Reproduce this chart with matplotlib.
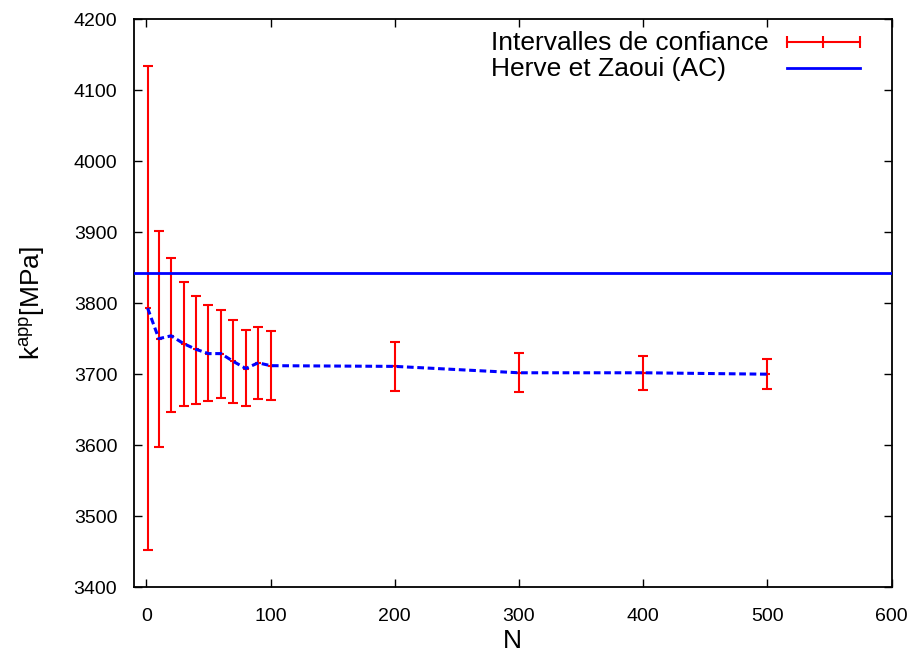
import matplotlib
matplotlib.use('Agg')
import matplotlib.pyplot as plt
import numpy as np

plt.rcParams['font.family'] = ['Liberation Sans', 'DejaVu Sans']
plt.rcParams['mathtext.fontset'] = 'custom'
plt.rcParams['mathtext.rm'] = 'Liberation Sans'
plt.rcParams['mathtext.it'] = 'Liberation Sans'

N = [1, 10, 20, 30, 40, 50, 60, 70, 80, 90, 100, 200, 300, 400, 500]
k_mean = [3793, 3750, 3754, 3743, 3735, 3729, 3729, 3718, 3708, 3716, 3712, 3711, 3702, 3702, 3700]
k_low = [3452, 3597, 3647, 3655, 3658, 3662, 3667, 3660, 3655, 3665, 3664, 3677, 3675, 3678, 3679]
k_high = [4134, 3901, 3863, 3830, 3810, 3798, 3791, 3776, 3762, 3767, 3761, 3745, 3730, 3726, 3721]
k_hz = 3843
labels = ['Intervalles de confiance', 'Herve et Zaoui (AC)']

mean = np.array(k_mean)
yerr = [mean - np.array(k_low), np.array(k_high) - mean]

fig = plt.figure(figsize=(9.15, 6.53), dpi=100)
ax = fig.add_axes([0.1464, 0.1006, 0.8281, 0.8703])

ax.errorbar(N, k_mean, yerr=yerr, fmt='_', color='#ff0000', ms=5, mew=1.5,
            elinewidth=1.5, capsize=3.5, capthick=1.5, zorder=2)
ax.plot(N, k_mean, color='#0000ff', lw=2.2, dashes=(2.2, 1.2), zorder=3)
ax.axhline(k_hz, color='#0000ff', lw=2, zorder=3)

ax.set_xlim(-10, 600)
ax.set_ylim(3400, 4200)
ax.set_xticks(range(0, 601, 100))
ax.set_yticks(range(3400, 4201, 100))
ax.tick_params(direction='in', length=6, width=1, top=True, right=True, labelsize=14)
ax.tick_params(axis='x', pad=15)
ax.tick_params(axis='y', pad=12)
for s in ax.spines.values():
    s.set_linewidth(1.3)

ax.set_xlabel('N', fontsize=19, labelpad=3)
ax.set_ylabel(r'k$^{\mathrm{app}}$[MPa]', fontsize=19, labelpad=19)

# gnuplot-style key: text left-aligned, sample on the right
tr = ax.transAxes
ax.text(0.4712, 0.9448, labels[0], transform=tr, fontsize=19, ha='left', va='baseline')
ax.text(0.4712, 0.899, labels[1], transform=tr, fontsize=19, ha='left', va='baseline')
ax.plot([0.8614, 0.9098, 0.9582], [0.960] * 3, transform=tr, color='#ff0000',
        lw=1.5, marker='|', ms=8, mew=1.5, clip_on=False)
ax.plot([0.8614, 0.9582], [0.9143] * 2, transform=tr, color='#0000ff', lw=2, clip_on=False)

fig.savefig('out.png', dpi=100)
